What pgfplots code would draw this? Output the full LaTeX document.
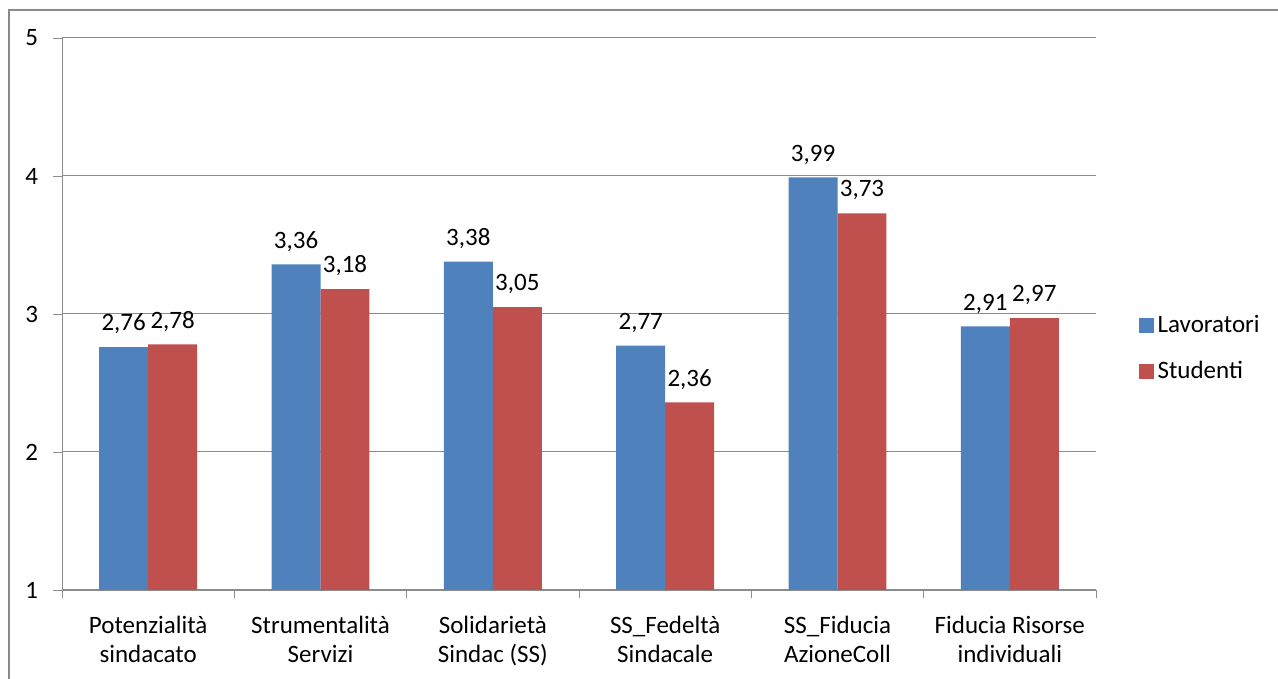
\documentclass[border=0pt]{standalone}
\usepackage{fontspec}
\setmainfont{Carlito}
\usepackage{pgfplots}
\pgfplotsset{compat=1.18}
\definecolor{blu}{HTML}{4F81BD}
\definecolor{rosso}{HTML}{C0504D}
\definecolor{griglia}{HTML}{8C8C8C}
\definecolor{cornice}{HTML}{8A8A8A}
\newcommand{\chartfont}{\fontsize{12.5}{14.5}\selectfont}
\begin{document}
\begin{tikzpicture}
\useasboundingbox (0pt,0pt) rectangle (639pt,339.5pt);
\draw[cornice, line width=1pt] (4.5pt,-10pt) rectangle (660pt,334.5pt);
\begin{axis}[
  at={(31pt,44.5pt)}, anchor=south west,
  scale only axis, width=517pt, height=276pt,
  ybar=0pt,
  ymin=1, ymax=5, ytick={1,2,3,4,5},
  xmin=-0.5, xmax=5.5,
  xtick={0,1,2,3,4,5},
  xticklabels={{Potenzialità\\sindacato},{Strumentalità\\Servizi},{Solidarietà\\Sindac (SS)},{SS\_Fedeltà\\Sindacale},{SS\_Fiducia\\AzioneColl},{Fiducia Risorse\\individuali}},
  x tick label style={align=center, font=\chartfont, yshift=-5pt},
  y tick label style={font=\chartfont, xshift=-4pt},
  minor xtick={-0.5,0.5,1.5,2.5,3.5,4.5,5.5},
  major x tick style={draw=none},
  minor x tick style={draw=griglia},
  ytick style={draw=griglia},
  tick align=outside,
  major tick length=4.5pt,
  minor tick length=4pt,
  axis x line*=bottom, axis y line*=left,
  axis line style={-, draw=griglia},
  ymajorgrids, grid style={draw=griglia, line width=0.5pt},
  /pgf/number format/.cd, use comma, fixed, fixed zerofill, precision=2, assume math mode=true,
  /pgfplots/.cd,
  yticklabel={\pgfmathprintnumber[fixed, precision=0, fixed zerofill=false]{\tick}},
  nodes near coords,
  every node near coord/.append style={font=\chartfont, yshift=3pt},
  bar width=0.284,
  legend style={at={(1.035,0.438)}, anchor=west, draw=none, fill=none, font=\chartfont, row sep=9pt, legend cell align=left},
  legend image code/.code={\draw[#1, draw=none] (0pt,-3.75pt) rectangle (7.5pt,3.75pt);},
]
\addplot[fill=blu, draw=none] coordinates {(0,2.76) (1,3.36) (2,3.38) (3,2.77) (4,3.99) (5,2.91)};
\addlegendentry{Lavoratori}
\addplot[fill=rosso, draw=none] coordinates {(0,2.78) (1,3.18) (2,3.05) (3,2.36) (4,3.73) (5,2.97)};
\addlegendentry{Studenti}
\end{axis}
\end{tikzpicture}
\end{document}
